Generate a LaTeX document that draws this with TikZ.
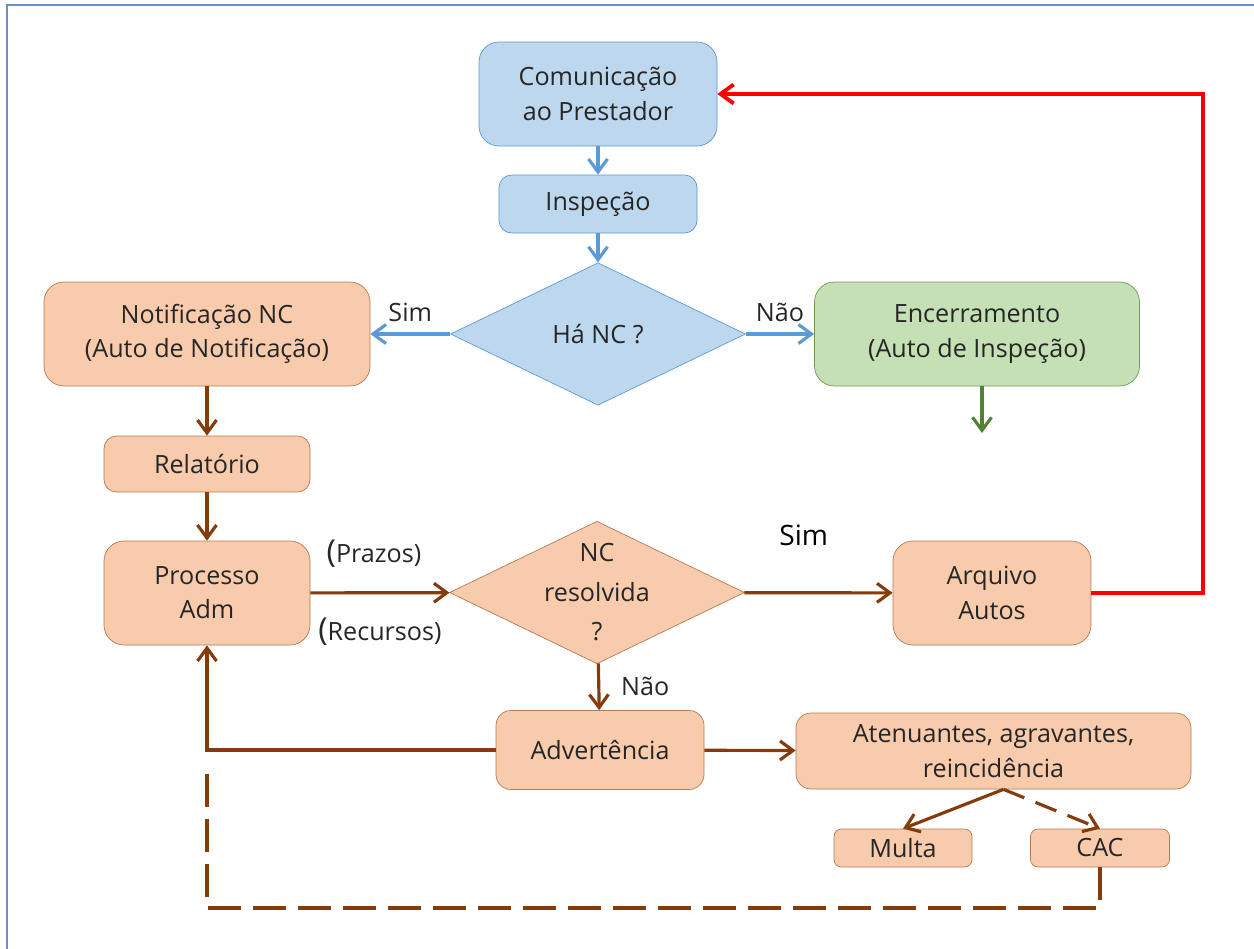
\documentclass[tikz,border=0pt]{standalone}
\usepackage{fontspec}
\setmainfont{Open Sans}
\usepackage{tikz}
\usetikzlibrary{shapes.geometric, arrows.meta, positioning}
\definecolor{boxblue}{HTML}{BDD7EE}
\definecolor{lineblue}{HTML}{5B9BD5}
\definecolor{boxpeach}{HTML}{F8CBAD}
\definecolor{edgepeach}{HTML}{B47A50}
\definecolor{brownline}{HTML}{843C0C}
\definecolor{boxgreen}{HTML}{C5E0B4}
\definecolor{edgegreen}{HTML}{6E9A52}
\definecolor{greenline}{HTML}{548235}
\definecolor{frameblue}{HTML}{6A90C8}
\definecolor{textgray}{HTML}{262626}

\begin{document}
\begin{tikzpicture}[>={Straight Barb[length=2.6mm, width=3.8mm]},
    every node/.style={font=\fontsize{14.3}{19.5}\selectfont, text=textgray, align=center},
    bluebox/.style={draw=lineblue, fill=boxblue, rounded corners=0.4cm, inner sep=0pt},
    peachbox/.style={draw=edgepeach, fill=boxpeach, rounded corners=0.4cm, inner sep=0pt},
    greenbox/.style={draw=edgegreen, fill=boxgreen, rounded corners=0.4cm, inner sep=0pt},
    decision/.style={diamond, aspect=2.07, inner sep=0pt, minimum width=5.9cm, minimum height=2.85cm},
    bluearrow/.style={->, lineblue, line width=1.8pt},
    brownarrow/.style={->, brownline, line width=1.8pt},
    brownreturn/.style={brownline, line width=1.8pt, dash pattern=on 6.6mm off 2.4mm}]
  \useasboundingbox (0,0) rectangle (25.08,-18.96);
  \draw[frameblue, line width=1.2pt] (0.14,-19.5) -- (0.14,-0.1) -- (25.5,-0.1);

  % Inspecao
  \node[bluebox, minimum width=4.76cm, minimum height=2.08cm]
    (COM) at (11.96,-1.88) {Comunicação\\ao Prestador};
  \node[bluebox, rounded corners=0.25cm, minimum width=3.96cm, minimum height=1.16cm]
    (INSP) at (11.96,-4.08) {Inspeção};
  \node[decision, draw=lineblue, fill=boxblue]
    (HANC) at (11.96,-6.68) {Há NC ?};
  \node[peachbox, minimum width=6.52cm, minimum height=2.08cm]
    (NOTIF) at (4.14,-6.68) {Notificação NC\\(Auto de Notificação)};
  \node[greenbox, minimum width=6.5cm, minimum height=2.08cm]
    (ENC) at (19.54,-6.68) {Encerramento\\(Auto de Inspeção)};
  \coordinate (ENCend) at (19.64,-8.66);

  % Processo administrativo
  \node[peachbox, rounded corners=0.25cm, minimum width=4.12cm, minimum height=1.12cm]
    (REL) at (4.14,-9.28) {Relatório};
  \node[peachbox, minimum width=4.12cm, minimum height=2.08cm]
    (PROC) at (4.14,-11.86) {Processo\\Adm};
  \node[decision, draw=edgepeach, fill=boxpeach, inner sep=-0.2cm, font=\fontsize{14.3}{22.5}\selectfont]
    (NCRES) at (11.94,-11.85) {NC\\resolvida\\?};
  \node[peachbox, minimum width=3.96cm, minimum height=2.08cm]
    (ARQ) at (19.84,-11.86) {Arquivo\\Autos};
  \node[peachbox, rounded corners=0.3cm, minimum width=4.16cm, minimum height=1.58cm]
    (ADV) at (12.0,-15.0) {Advertência};
  \node[peachbox, rounded corners=0.3cm, minimum width=7.9cm, minimum height=1.52cm]
    (ATEN) at (19.87,-15.02) {Atenuantes, agravantes,\\reincidência};
  \node[peachbox, rounded corners=0.15cm, minimum width=2.76cm, minimum height=0.76cm]
    (MULTA) at (18.06,-16.96) {Multa};
  \node[peachbox, rounded corners=0.15cm, minimum width=2.78cm, minimum height=0.76cm]
    (CAC) at (22.0,-16.96) {CAC};
  \coordinate (RETend) at (4.14,-15.24);

  % Fluxo da inspecao
  \draw[bluearrow] (COM) -- (INSP);
  \draw[bluearrow] (INSP) -- (HANC);
  \draw[bluearrow] (HANC) -- (NOTIF)
    node[midway, above=1mm] {Sim};
  \draw[bluearrow] (HANC) -- (ENC)
    node[midway, above=1mm] {Não};
  \draw[->, greenline, line width=1.8pt] (ENC.south -| ENCend) -- (ENCend);

  % Fluxo do processo
  \draw[brownarrow] (NOTIF) -- (REL);
  \draw[brownarrow] (REL) -- (PROC);
  \draw[brownarrow] (PROC) -- (NCRES)
    node[midway, above=3.5mm, xshift=-0.12cm] {{\fontsize{18}{18}\selectfont(}Prazos)}
    node[midway, below=3.5mm] {{\fontsize{18}{18}\selectfont(}Recursos)};
  \draw[brownarrow] (NCRES) -- (ARQ)
    node[pos=0.4, above=8mm, font=\fontsize{16}{19}\selectfont, text=black] {Sim};
  \draw[brownarrow] (NCRES) -- (ADV)
    node[midway, right=3mm] {Não};
  \draw[brownarrow] (ADV.west) -| (PROC.south);
  \draw[brownarrow] (ADV) -- (ATEN);
  \draw[brownarrow] ([xshift=0.2cm]ATEN.south) -- (MULTA.north);
  \draw[->, brownline, line width=1.8pt, dash pattern=on 4.5mm off 2.4mm]
    ([xshift=0.2cm]ATEN.south) -- (CAC.north);
  % Retorno
  \draw[brownreturn] (CAC.south) |- (4.14,-18.16) -- (RETend);
  \draw[->, red, line width=2.2pt] (ARQ.east) -| (24.06,-1.88) -- (COM.east);
\end{tikzpicture}
\end{document}
